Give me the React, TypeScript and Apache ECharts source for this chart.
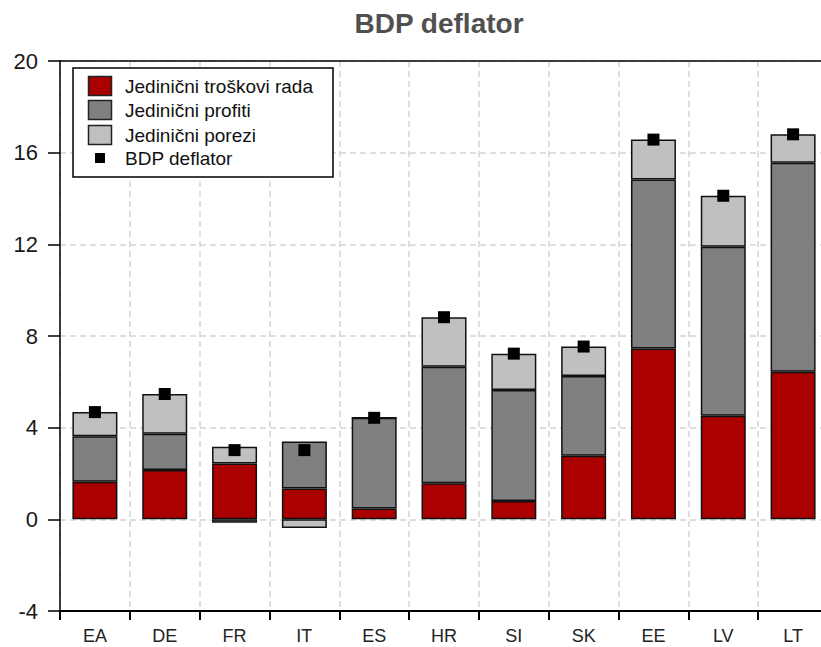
import React, { useEffect, useRef } from "react";
import * as echarts from "echarts";

const categories = ["EA", "DE", "FR", "IT", "ES", "HR", "SI", "SK", "EE", "LV", "LT"];
const labourCosts = [1.64, 2.15, 2.44, 1.35, 0.47, 1.58, 0.8, 2.77, 7.45, 4.52, 6.44];
const profits = [1.99, 1.59, -0.15, 2.05, 3.96, 5.08, 4.84, 3.49, 7.38, 7.38, 9.12];
const taxes = [1.05, 1.73, 0.73, -0.38, 0, 2.16, 1.59, 1.28, 1.74, 2.22, 1.24];
const deflator = [4.68, 5.47, 3.02, 3.02, 4.43, 8.82, 7.23, 7.54, 16.57, 14.12, 16.8];
const legendLabels = ["Jedinični troškovi rada", "Jedinični profiti", "Jedinični porezi", "BDP deflator"];
const title = "BDP deflator";

const FONT = "'Liberation Sans', Arial, sans-serif";
const RED = "#AA0000";
const DARK = "#808080";
const LIGHT = "#C0C0C0";

export default function App() {
  const ref = useRef<HTMLDivElement>(null);
  useEffect(() => {
    if (!ref.current) return;
    const chart = echarts.init(ref.current, null, { renderer: "svg" });
    const barStyle = (c: string) => ({ color: c, borderColor: "#111", borderWidth: 1.5 });
    const swatchColors = [RED, DARK, LIGHT];
    const rowY = [86, 110, 135, 158];
    const graphics: any[] = [
      {
        type: "rect",
        z: 100,
        shape: { x: 73, y: 68, width: 260, height: 109 },
        style: { fill: "#fff", stroke: "#000", lineWidth: 1.5 },
      },
    ];
    swatchColors.forEach((c, i) => {
      graphics.push({
        type: "rect",
        z: 101,
        shape: { x: 88.5, y: rowY[i] - 9.5, width: 23, height: 19 },
        style: { fill: c, stroke: "#222", lineWidth: 1.5 },
      });
    });
    graphics.push({
      type: "rect",
      z: 101,
      shape: { x: 95, y: rowY[3] - 5, width: 10, height: 10 },
      style: { fill: "#000" },
    });
    legendLabels.forEach((t, i) => {
      graphics.push({
        type: "text",
        z: 101,
        x: 125,
        y: rowY[i],
        style: {
          text: t,
          fill: "#111",
          font: `19px ${FONT}`,
          verticalAlign: "middle",
        },
      });
    });
    chart.setOption({
      animation: false,
      backgroundColor: "#fff",
      title: {
        text: title,
        left: 434,
        top: 4,
        textAlign: "center",
        textStyle: { fontFamily: FONT, fontSize: 28, fontWeight: "bold", color: "#505050" },
      },
      grid: {
        left: 60,
        top: 61,
        width: 768,
        height: 550,
        show: false,
        containLabel: false,
        outerBoundsMode: "none",
      },
      xAxis: [
        {
          type: "category",
          data: categories,
          position: "bottom",
          axisLine: { onZero: false, lineStyle: { color: "#000", width: 2 } },
          axisTick: { show: true, length: 9, lineStyle: { color: "#000", width: 2 } },
          axisLabel: { color: "#222", fontFamily: FONT, fontSize: 18, margin: 16 },
          splitLine: { show: true, lineStyle: { color: "#d4d4d4", type: [6, 4], width: 1.5 } },
        },
        {
          type: "category",
          data: categories,
          position: "top",
          axisLine: { onZero: false, lineStyle: { color: "#000", width: 1.5 } },
          axisTick: { show: false },
          axisLabel: { show: false },
          splitLine: { show: false },
        },
      ],
      yAxis: {
        type: "value",
        min: -4,
        max: 20,
        interval: 4,
        axisLine: { show: true, lineStyle: { color: "#000", width: 1.5 } },
        axisTick: { show: true, length: 12, lineStyle: { color: "#000", width: 1.5 } },
        axisLabel: { color: "#1a1a1a", fontFamily: FONT, fontSize: 22, margin: 22 },
        splitLine: { show: true, lineStyle: { color: "#d4d4d4", type: [6, 4], width: 1.5 } },
      },
      series: [
        { name: legendLabels[0], type: "bar", stack: "a", barWidth: 45, data: labourCosts, itemStyle: barStyle(RED) },
        { name: legendLabels[1], type: "bar", stack: "a", barWidth: 45, data: profits, itemStyle: barStyle(DARK) },
        { name: legendLabels[2], type: "bar", stack: "a", barWidth: 45, data: taxes, itemStyle: barStyle(LIGHT) },
        {
          name: legendLabels[3],
          type: "scatter",
          symbol: "rect",
          symbolSize: 12,
          data: deflator,
          itemStyle: { color: "#000", opacity: 1 },
          z: 10,
        },
      ],
      graphic: graphics,
    });
    return () => chart.dispose();
  }, []);
  return <div ref={ref} style={{ position: "fixed", left: 0, top: 0, width: 821, height: 647 }} />;
}
